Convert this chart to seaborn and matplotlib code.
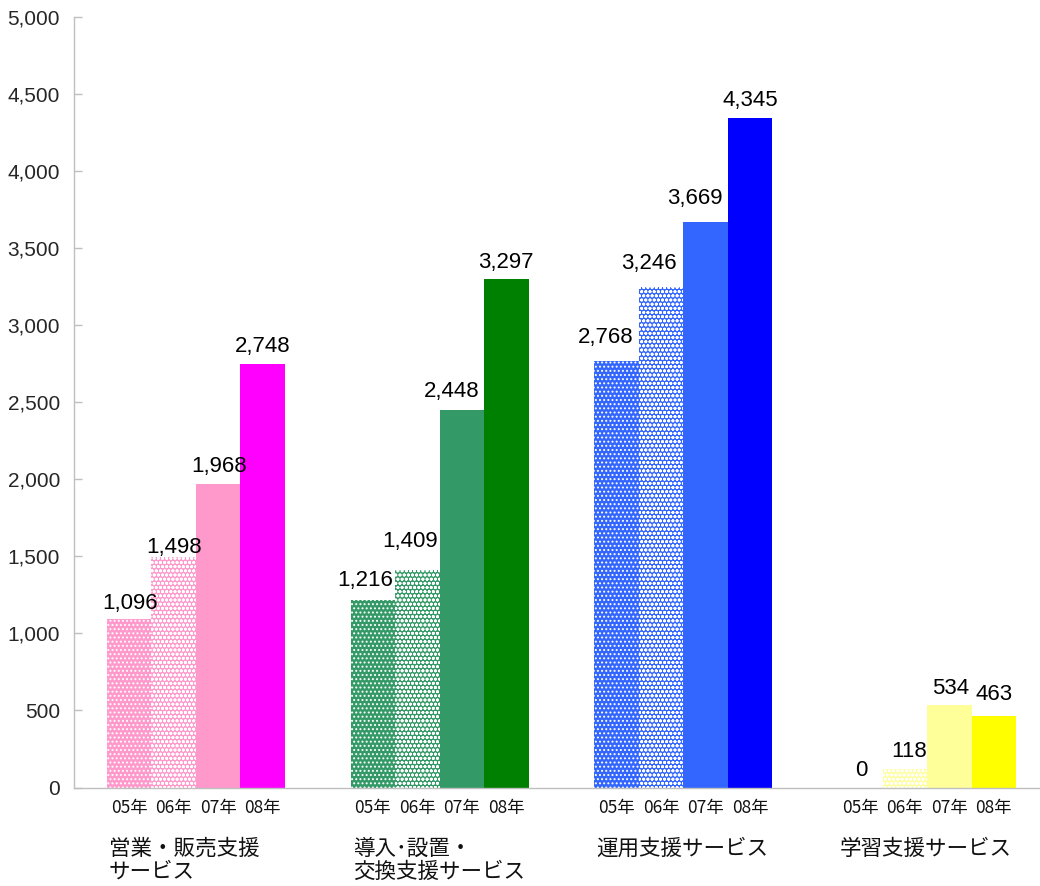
import matplotlib
matplotlib.use("Agg")
import matplotlib.pyplot as plt
import seaborn as sns
import pandas as pd

# Service categories (two-line labels where the original wraps)
categories = ["営業・販売支援\nサービス", "導入･設置・\n交換支援サービス", "運用支援サービス", "学習支援サービス"]
years = ["05年", "06年", "07年", "08年"]

# Values per category, one entry per year (05, 06, 07, 08)
sales_support = [1096, 1498, 1968, 2748]
install_support = [1216, 1409, 2448, 3297]
operation_support = [2768, 3246, 3669, 4345]
learning_support = [0, 118, 534, 463]
series = [sales_support, install_support, operation_support, learning_support]

# Colour per category and year
colors = [
    ["#FF99CC", "#FF99CC", "#FF99CC", "#FF00FF"],
    ["#339966", "#339966", "#339966", "#008000"],
    ["#3366FF", "#3366FF", "#3366FF", "#0000FF"],
    ["#FFFF99", "#FFFF99", "#FFFF99", "#FFFF00"],
]
hatches = ["....", "oooo", None, None]

# Nudges (pixels: dx, gap above bar) so value labels sit clear of neighbours
label_nudge = [
    [(1, 10), (0, 4), (1, 12), (0, 12)],
    [(-8, 14), (-7, 23), (-10, 13), (0, 11)],
    [(-11, 18), (-12, 18), (-11, 18), (0, 12)],
    [(1, 12), (4, 12), (1, 11), (0, 16)],
]

yticks = [0, 500, 1000, 1500, 2000, 2500, 3000, 3500, 4000, 4500, 5000]

rows = []
for ci, cat in enumerate(categories):
    for yi, yr in enumerate(years):
        rows.append({"category": cat, "year": yr, "value": series[ci][yi]})
df = pd.DataFrame(rows)

sns.set_style("white")
plt.rcParams["font.family"] = ["Liberation Sans", "Noto Sans CJK JP", "DejaVu Sans"]
plt.rcParams["hatch.linewidth"] = 0.9
plt.rcParams["hatch.color"] = "white"

W, H = 1040, 886
fig = plt.figure(figsize=(W / 100, H / 100), dpi=100)
ax = fig.add_axes([74 / W, (H - 787.5) / H, 975 / W, 770.5 / H])

sns.barplot(data=df, x="category", y="value", hue="year", order=categories,
            hue_order=years, width=0.73, gap=0, dodge=True, legend=False,
            ax=ax, saturation=1)

for yi, cont in enumerate(ax.containers):
    for ci, bar in enumerate(cont.patches):
        bar.set_facecolor(colors[ci][yi])
        bar.set_linewidth(0)
        if hatches[yi]:
            bar.set_hatch(hatches[yi])
            bar.set_edgecolor("white")
        else:
            bar.set_edgecolor(colors[ci][yi])
        val = series[ci][yi]
        cx = bar.get_x() + bar.get_width() / 2
        dx, gap = label_nudge[ci][yi]
        ax.annotate(f"{val:,}", (cx, val), xytext=(dx, gap), textcoords="offset pixels",
                    ha="center", va="baseline", fontsize=16, color="black",
                    family=["Liberation Sans"])
        # year label under each bar
        ax.annotate(years[yi], (cx, 0), xytext=(0, -21), textcoords="offset pixels",
                    ha="center", va="center", fontsize=12.5,
                    family=["Noto Sans CJK JP"], color="#111111",
                    annotation_clip=False)

# category labels, left-aligned with the first bar of each group
for ci, cat in enumerate(categories):
    ax.annotate(cat, (ci - 0.365, 0), xycoords="data", xytext=(2, -50),
                textcoords="offset pixels", ha="left", va="top", fontsize=15.5,
                family=["Noto Sans CJK JP"], linespacing=1.08, color="#111111",
                annotation_clip=False)

ax.set_xlim(-0.5, 3.5)
ax.set_ylim(0, 5000)
ax.set_yticks(yticks)
ax.set_yticklabels([f"{t:,}" for t in yticks], fontsize=15, family=["Liberation Sans"])
ax.set_xticks([0.5, 1.5, 2.5])
ax.set_xticklabels([])
ax.tick_params(axis="x", direction="in", length=7, color="#BFBFBF", width=1)
ax.tick_params(axis="y", direction="in", length=6, color="#BFBFBF", width=1, pad=10, left=True)
ax.set_xlabel("")
ax.set_ylabel("")
for s in ["top", "right"]:
    ax.spines[s].set_visible(False)
for s in ["left", "bottom"]:
    ax.spines[s].set_color("#BFBFBF")
    ax.spines[s].set_linewidth(1)

fig.savefig("out.png", dpi=100, facecolor="white")
